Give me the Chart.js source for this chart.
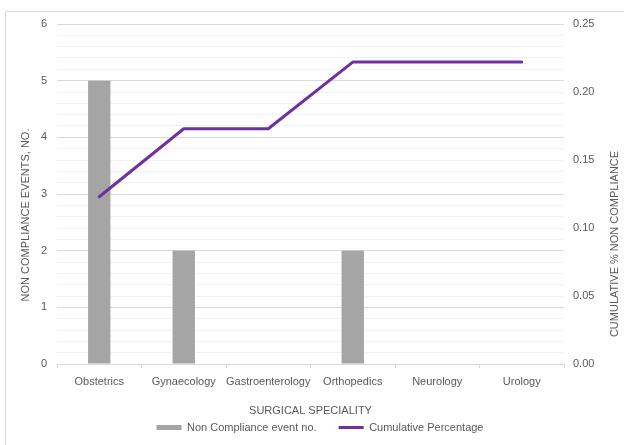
<!DOCTYPE html>
<html>
<head>
<meta charset="utf-8">
<title>Non compliance events by surgical speciality</title>
<script src="https://cdn.jsdelivr.net/npm/chart.js@4/dist/chart.umd.min.js"></script>
<style>
  html, body { margin: 0; padding: 0; background: #ffffff; }
  #wrap { width: 624px; height: 445px; position: relative; }
</style>
</head>
<body>
<div id="wrap"><canvas id="chart" width="624" height="445"></canvas></div>
<script>
// Surgical specialities on the category axis
const categories = ['Obstetrics', 'Gynaecology', 'Gastroenterology', 'Orthopedics', 'Neurology', 'Urology'];
// Number of non compliance events per speciality
const eventCounts = [5, 2, 0, 2, 0, 0];
// Cumulative share of non compliance
const cumulativeShare = [0.123, 0.173, 0.173, 0.222, 0.222, 0.222];

const leftTitle = 'NON COMPLIANCE EVENTS, NO.';
const rightTitle = 'CUMULATIVE % NON COMPLIANCE';
const xTitle = 'SURGICAL SPECIALITY';

const FONT = '"Liberation Sans", Arial, sans-serif';
const TEXT = '#595959';
const GRID_MAJOR = '#D9D9D9';
const GRID_MINOR = '#F2F2F2';

// outer frame lines and rotated value-axis titles
const decorations = {
  id: 'decorations',
  beforeDraw(chart) {
    const ctx = chart.ctx;
    ctx.save();
    ctx.strokeStyle = GRID_MAJOR;
    ctx.lineWidth = 1;
    ctx.beginPath();
    ctx.moveTo(5.5, chart.height);
    ctx.lineTo(5.5, 11.5);
    ctx.lineTo(chart.width, 11.5);
    ctx.stroke();
    ctx.restore();
  },
  afterDraw(chart) {
    const ctx = chart.ctx;
    const yl = chart.scales.y, yr = chart.scales.y1;
    ctx.save();
    ctx.font = '11px ' + FONT;
    ctx.fillStyle = TEXT;
    ctx.textAlign = 'center';
    ctx.textBaseline = 'middle';
    ctx.translate(yl.left + 4, 215);
    ctx.rotate(-Math.PI / 2);
    ctx.fillText(leftTitle, 0, 0);
    ctx.restore();
    ctx.save();
    ctx.font = '11px ' + FONT;
    ctx.fillStyle = TEXT;
    ctx.textAlign = 'center';
    ctx.textBaseline = 'middle';
    ctx.translate(yr.right - 3, 244);
    ctx.rotate(-Math.PI / 2);
    ctx.fillText(rightTitle, 0, 0);
    ctx.restore();
  }
};

const isWhole = v => Math.abs(v - Math.round(v)) < 1e-6;

new Chart(document.getElementById('chart'), {
  type: 'bar',
  data: {
    labels: categories,
    datasets: [
      {
        type: 'bar',
        label: 'Non Compliance event no.',
        data: eventCounts,
        backgroundColor: '#A5A5A5',
        borderWidth: 0,
        barPercentage: 0.265,
        categoryPercentage: 1,
        yAxisID: 'y',
        pointStyle: 'rect',
        order: 1
      },
      {
        type: 'line',
        label: 'Cumulative Percentage',
        data: cumulativeShare,
        borderColor: '#7030A0',
        backgroundColor: '#7030A0',
        borderWidth: 3,
        borderCapStyle: 'round',
        borderJoinStyle: 'round',
        pointRadius: 0,
        pointHoverRadius: 0,
        pointStyle: 'line',
        tension: 0,
        fill: false,
        yAxisID: 'y1',
        order: 0
      }
    ]
  },
  options: {
    responsive: false,
    animation: false,
    layout: { padding: { left: 22, right: 6, top: 24, bottom: 5 } },
    plugins: {
      tooltip: { enabled: false },
      legend: {
        position: 'bottom',
        maxHeight: 40,
        labels: {
          usePointStyle: true,
          pointStyleWidth: 25,
          boxHeight: 5,
          padding: 22,
          color: TEXT,
          font: { family: FONT, size: 11 },
          sort: (a, b) => a.datasetIndex - b.datasetIndex
        }
      }
    },
    scales: {
      x: {
        offset: true,
        grid: {
          offset: true,
          drawOnChartArea: false,
          drawTicks: true,
          tickLength: 4,
          color: GRID_MAJOR
        },
        border: { display: true, color: GRID_MAJOR },
        ticks: { color: TEXT, font: { family: FONT, size: 11 }, padding: 7, maxRotation: 0, autoSkip: false },
        title: {
          display: true,
          text: xTitle,
          color: TEXT,
          font: { family: FONT, size: 11 },
          padding: { top: 0, bottom: -18 }
        },
        afterFit: s => { s.height = 36; }
      },
      y: {
        position: 'left',
        min: 0,
        max: 6,
        grid: {
          drawTicks: false,
          color: c => (c.tick && isWhole(c.tick.value)) ? GRID_MAJOR : GRID_MINOR
        },
        border: { display: false },
        ticks: {
          stepSize: 0.2,
          padding: 10,
          color: TEXT,
          font: { family: FONT, size: 11 },
          autoSkip: false,
          callback: v => isWhole(v) ? String(Math.round(v)) : ''
        },
        afterFit: s => { s.width = 35; }
      },
      y1: {
        position: 'right',
        min: 0,
        max: 0.25,
        grid: { drawOnChartArea: false, drawTicks: false },
        border: { display: false },
        ticks: {
          stepSize: 0.05,
          padding: 9,
          color: TEXT,
          font: { family: FONT, size: 11 },
          callback: v => v.toFixed(2)
        },
        afterFit: s => { s.width = 54; }
      }
    }
  },
  plugins: [decorations]
});
</script>
</body>
</html>
